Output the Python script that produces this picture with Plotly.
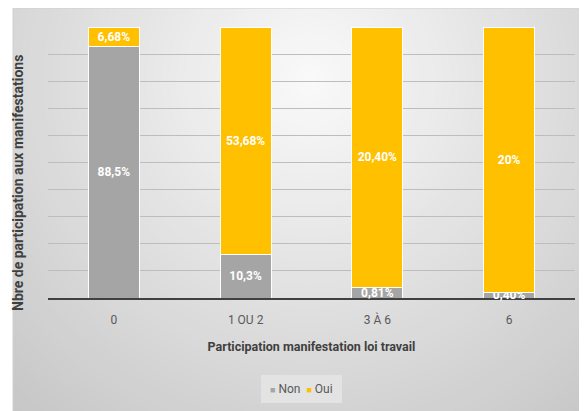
import plotly.graph_objects as go

categories = ["0", "1 OU 2", "3 À 6", "6"]
non_values = [88.5, 10.3, 0.81, 0.40]
oui_values = [6.68, 53.68, 20.40, 20.0]
non_labels = ["88,5%", "10,3%", "0,81%", "0,40%"]
oui_labels = ["6,68%", "53,68%", "20,40%", "20%"]
series_names = ["Non", "Oui"]
x_title = "Participation manifestation loi travail"
y_title = "Nbre de participation aux manifestations"

# the page has an 8px body margin; work in page pixels and convert
OFF = 8
W, H = 587 - OFF, 411 - OFF
L, R, T, B = 48 - OFF, 12, 27 - OFF, 113
PW, PH = W - L - R, H - T - B


def px_x(p):
    return (p - OFF - L) / PW


def px_y(p):
    return (H - B - (p - OFF)) / PH


FONT = "Roboto, sans-serif"
GRAY = "#A5A5A5"
GOLD = "#FFC000"

fig = go.Figure()
for name, vals, labels, col in [(series_names[0], non_values, non_labels, GRAY),
                                (series_names[1], oui_values, oui_labels, GOLD)]:
    fig.add_trace(go.Bar(
        name=name, x=categories, y=vals, text=labels,
        marker=dict(color=col, line=dict(color="white", width=1)),
        textposition="inside", insidetextanchor="middle", constraintext="none",
        textfont=dict(color="white", size=12, family=FONT, weight="bold"),
        textangle=0, hoverinfo="skip", cliponaxis=False, showlegend=False,
    ))

# background radial-ish gradient
shapes = []
cx, cy = 310, 80
N = 60
rmax = 470
for i in range(N):
    r = rmax * (1 - i / N)
    c = int(round(250 - 0.115 * r))
    c = max(min(c, 250), 190)
    col = f"rgb({c},{c},{c})"
    shapes.append(dict(
        type="circle", xref="paper", yref="paper", layer="below",
        x0=px_x(cx - r), x1=px_x(cx + r), y0=px_y(cy + r), y1=px_y(cy - r),
        fillcolor=col, line=dict(width=0),
    ))
# white outer margins (top and left)
shapes.append(dict(type="rect", xref="paper", yref="paper", layer="below",
                   x0=px_x(-50), x1=px_x(13), y0=px_y(H + 80), y1=px_y(-50),
                   fillcolor="white", line=dict(width=0)))
shapes.append(dict(type="rect", xref="paper", yref="paper", layer="below",
                   x0=px_x(-50), x1=px_x(W + 80), y0=px_y(8), y1=px_y(-50),
                   fillcolor="white", line=dict(width=0)))
shapes.append(dict(type="rect", xref="paper", yref="paper", layer="below",
                   x0=px_x(13), x1=px_x(600), y0=px_y(420), y1=px_y(8),
                   fillcolor="rgba(0,0,0,0)", line=dict(width=1, color="#d0d0d0")))
# legend background box
shapes.append(dict(type="rect", xref="paper", yref="paper", layer="below",
                   x0=px_x(261), x1=px_x(342), y0=px_y(403), y1=px_y(375),
                   fillcolor="#e3e3e3", line=dict(width=0)))

legend_text = (f'<span style="color:{GRAY};font-size:9px">■</span> {series_names[0]}  '
               f'<span style="color:{GOLD};font-size:9px">■</span> {series_names[1]}')

fig.update_layout(
    width=W, height=H,
    margin=dict(l=L, r=R, t=T, b=B),
    barmode="stack", barnorm="percent", bargap=0.614,
    paper_bgcolor="white", plot_bgcolor="rgba(0,0,0,0)",
    font=dict(family=FONT, color="#595959", size=12),
    shapes=shapes,
    showlegend=False,
    annotations=[
        dict(text=legend_text, xref="paper", yref="paper",
             x=px_x(301), y=px_y(389), xanchor="center", yanchor="middle",
             showarrow=False, font=dict(size=12, color="#595959", family=FONT)),
        dict(text=f"<b>{y_title}</b>", xref="paper", yref="paper", textangle=-90,
             x=px_x(18), y=px_y(183), xanchor="center", yanchor="middle",
             showarrow=False, font=dict(size=14, color="#404040", family=FONT)),
    ],
    xaxis=dict(
        type="category", showgrid=False, showline=True, linecolor="#404040", linewidth=2,
        layer="below traces",
        ticks="outside", ticklen=10, tickcolor="rgba(0,0,0,0)",
        tickfont=dict(size=12, color="#595959", family=FONT),
        title=dict(text=f"<b>{x_title}</b>",
                   font=dict(size=12.5, color="#404040", family=FONT), standoff=16),
        automargin=False, fixedrange=True,
    ),
    yaxis=dict(
        range=[0, 100], dtick=10, showticklabels=False, showgrid=True,
        gridcolor="#bdbdbd", gridwidth=1, zeroline=False,
        automargin=False, fixedrange=True,
    ),
)

fig.write_html("out.html")
